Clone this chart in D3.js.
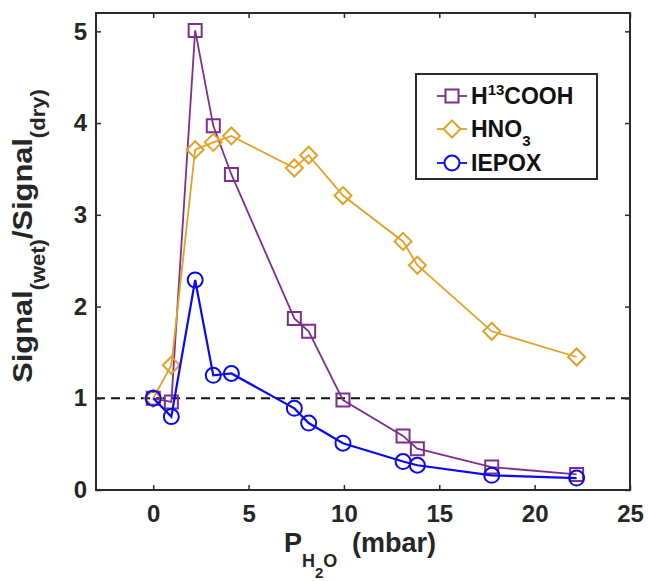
<!DOCTYPE html>
<html>
<head>
<meta charset="utf-8">
<script src="https://cdn.jsdelivr.net/npm/d3@7"></script>
<style>
  html, body { margin: 0; padding: 0; background: #fff; }
  svg { display: block; font-family: "Liberation Sans", Arial, sans-serif; font-weight: bold; }
</style>
</head>
<body>
<svg id="chart" width="648" height="581"></svg>
<script>
// Water vapour partial pressure (mbar)
const pressure = [0, 0.95, 2.2, 3.15, 4.1, 7.4, 8.15, 9.95, 13.1, 13.85, 17.75, 22.2];

// Signal ratios wet/dry for each reagent
const h13cooh = [1.0, 0.96, 5.01, 3.97, 3.44, 1.87, 1.73, 0.98, 0.59, 0.45, 0.25, 0.17];
const hno3    = [1.0, 1.36, 3.71, 3.79, 3.86, 3.51, 3.65, 3.21, 2.71, 2.45, 1.73, 1.45];
const iepox   = [1.0, 0.80, 2.29, 1.25, 1.27, 0.89, 0.73, 0.51, 0.31, 0.27, 0.16, 0.13];

const xTicks = [0, 5, 10, 15, 20, 25];
const yTicks = [0, 1, 2, 3, 4, 5];

const seriesNames = ["H13COOH", "HNO3", "IEPOX"];
const seriesColors = ["#7E2F8E", "#E3A126", "#0A0AF0"];
const seriesMarkers = ["square", "diamond", "circle"];

const svg = d3.select("#chart");
const plotLeft = 96, plotRight = 630, plotTop = 13, plotBottom = 490;

const x = d3.scaleLinear().domain([-3, 25]).range([plotLeft, plotRight]);
const y = d3.scaleLinear().domain([0, 5.2]).range([plotBottom, plotTop]);

const axisColor = "#2b2b2b";

// Reference line at ratio = 1
svg.append("line")
  .attr("x1", x(-3)).attr("x2", x(25))
  .attr("y1", y(1)).attr("y2", y(1))
  .attr("stroke", "#111").attr("stroke-width", 2.2)
  .attr("stroke-dasharray", "9,6");

function markerPath(type, r) {
  if (type === "square") {
    return `M${-r},${-r}H${r}V${r}H${-r}Z`;
  } else if (type === "diamond") {
    const d = r * 1.25;
    return `M0,${-d}L${d},0L0,${d}L${-d},0Z`;
  } else {
    return `M${r},0A${r},${r} 0 1,1 ${-r},0A${r},${r} 0 1,1 ${r},0Z`;
  }
}
const markerSize = { square: 6.5, diamond: 6.8, circle: 7.5 };

const seriesData = [h13cooh, hno3, iepox];
const line = d3.line().x(d => x(d[0])).y(d => y(d[1]));

seriesData.forEach((vals, i) => {
  const pts = pressure.map((p, j) => [p, vals[j]]);
  const g = svg.append("g");
  g.append("path")
    .attr("d", line(pts))
    .attr("fill", "none")
    .attr("stroke", seriesColors[i])
    .attr("stroke-width", i === 2 ? 2.2 : 1.8);
  g.selectAll("path.m").data(pts).enter().append("path")
    .attr("class", "m")
    .attr("transform", d => `translate(${x(d[0])},${y(d[1])})`)
    .attr("d", markerPath(seriesMarkers[i], markerSize[seriesMarkers[i]]))
    .attr("fill", "none")
    .attr("stroke", seriesColors[i])
    .attr("stroke-width", 2);
});

// Axes box with inward ticks on all sides
const tickLen = 5;
const fmt = d3.format("d");
const xBottom = d3.axisBottom(x).tickValues(xTicks).tickFormat(fmt).tickSizeInner(-tickLen).tickSizeOuter(0).tickPadding(15);
const xTop = d3.axisTop(x).tickValues(xTicks).tickSizeInner(-tickLen).tickSizeOuter(0).tickFormat("");
const yLeft = d3.axisLeft(y).tickValues(yTicks).tickFormat(fmt).tickSizeInner(-tickLen).tickSizeOuter(0).tickPadding(9);
const yRight = d3.axisRight(y).tickValues(yTicks).tickSizeInner(-tickLen).tickSizeOuter(0).tickFormat("");

function styleAxis(g) {
  g.select(".domain").remove();
  g.selectAll(".tick line").attr("stroke", axisColor).attr("stroke-width", 1.5);
  g.selectAll(".tick text").attr("fill", "#262626").style("font-size", "24px")
    .style("font-family", "Liberation Sans, Arial, sans-serif").style("font-weight", "bold");
}
svg.append("g").attr("transform", `translate(0,${plotBottom})`).call(xBottom).call(styleAxis);
svg.append("g").attr("transform", `translate(0,${plotTop})`).call(xTop).call(styleAxis);
svg.append("g").attr("transform", `translate(${plotLeft},0)`).call(yLeft).call(styleAxis);
svg.append("g").attr("transform", `translate(${plotRight},0)`).call(yRight).call(styleAxis);

svg.append("rect")
  .attr("x", plotLeft).attr("y", plotTop)
  .attr("width", plotRight - plotLeft).attr("height", plotBottom - plotTop)
  .attr("fill", "none").attr("stroke", axisColor).attr("stroke-width", 2);

// X axis title: P_{H2O} (mbar)
const xt = svg.append("text")
  .attr("x", 284).attr("y", 552)
  .attr("fill", "#262626").style("font-size", "27px");
xt.append("tspan").text("P");
xt.append("tspan").attr("dy", 15).style("font-size", "18px").text("H");
xt.append("tspan").attr("dy", 11).style("font-size", "15px").text("2");
xt.append("tspan").attr("dy", -11).style("font-size", "18px").text("O");
xt.append("tspan").attr("x", 352).attr("dy", -15).text("(mbar)");

// Y axis title: Signal_(wet)/Signal_(dry)
const yt = svg.append("text")
  .attr("transform", "translate(32,236) rotate(-90) scale(1.1,1)")
  .attr("text-anchor", "middle")
  .attr("fill", "#262626").style("font-size", "28px");
yt.append("tspan").text("Signal");
yt.append("tspan").attr("dy", 13).style("font-size", "20px").text("(wet)");
yt.append("tspan").attr("dy", -13).text("/Signal");
yt.append("tspan").attr("dy", 13).style("font-size", "20px").text("(dry)");

// Legend
const lg = svg.append("g");
lg.append("rect")
  .attr("x", 416).attr("y", 74).attr("width", 181).attr("height", 105)
  .attr("fill", "#fff").attr("stroke", axisColor).attr("stroke-width", 2);
const legendY = [96, 129, 163];
seriesNames.forEach((name, i) => {
  const cy = legendY[i];
  lg.append("line").attr("x1", 437).attr("x2", 467).attr("y1", cy).attr("y2", cy)
    .attr("stroke", seriesColors[i]).attr("stroke-width", 1.8);
  lg.append("path")
    .attr("transform", `translate(452,${cy})`)
    .attr("d", markerPath(seriesMarkers[i], markerSize[seriesMarkers[i]]))
    .attr("fill", "#fff").attr("stroke", seriesColors[i]).attr("stroke-width", 2);
  const t = lg.append("text").attr("x", 471).attr("y", cy + 8)
    .attr("fill", "#111").style("font-size", "23px");
  if (i === 0) {
    t.append("tspan").text("H");
    t.append("tspan").attr("dy", -9).style("font-size", "15px").text("13");
    t.append("tspan").attr("dy", 9).text("COOH");
  } else if (i === 1) {
    t.append("tspan").text("HNO");
    t.append("tspan").attr("dy", 9).style("font-size", "15px").text("3");
  } else {
    t.text("IEPOX");
  }
});
</script>
</body>
</html>
